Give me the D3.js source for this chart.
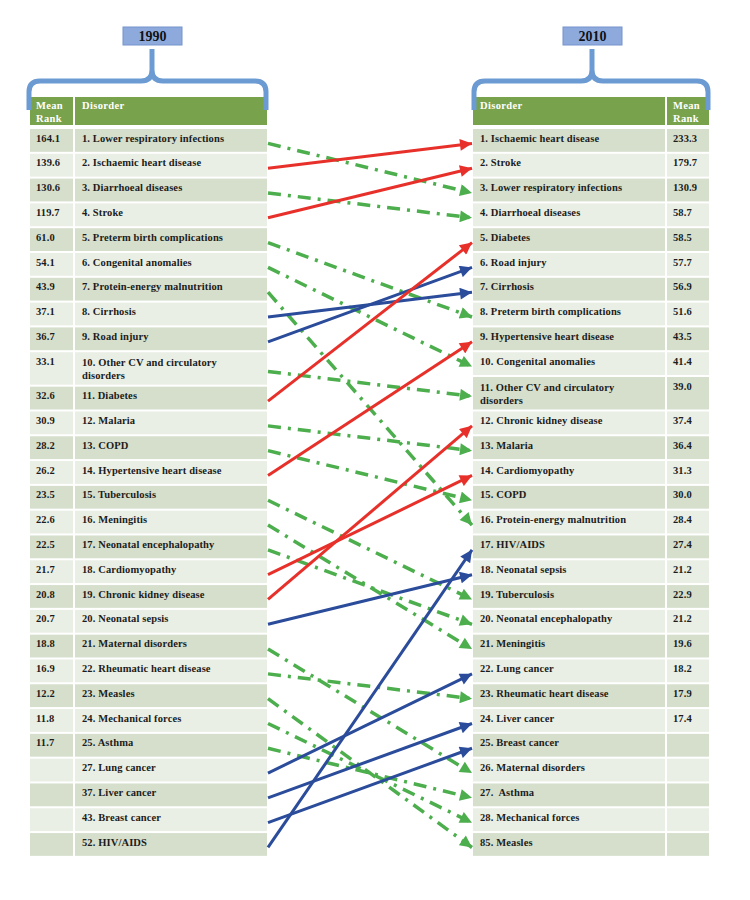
<!DOCTYPE html>
<html>
<head>
<meta charset="utf-8">
<script src="https://cdn.jsdelivr.net/npm/d3@7"></script>
<style>
  body { margin: 0; background: #fff; }
  svg { display: block; }
</style>
</head>
<body>
<svg width="750" height="900"></svg>
<script>
// ---- data ----
const labels1990 = [
  '1. Lower respiratory infections', '2. Ischaemic heart disease', '3. Diarrhoeal diseases',
  '4. Stroke', '5. Preterm birth complications', '6. Congenital anomalies',
  '7. Protein-energy malnutrition', '8. Cirrhosis', '9. Road injury',
  '10. Other CV and circulatory disorders', '11. Diabetes', '12. Malaria', '13. COPD',
  '14. Hypertensive heart disease', '15. Tuberculosis', '16. Meningitis',
  '17. Neonatal encephalopathy', '18. Cardiomyopathy', '19. Chronic kidney disease',
  '20. Neonatal sepsis', '21. Maternal disorders', '22. Rheumatic heart disease',
  '23. Measles', '24. Mechanical forces', '25. Asthma', '27. Lung cancer',
  '37. Liver cancer', '43. Breast cancer', '52. HIV/AIDS'
]
const rank1990 = [
  '164.1', '139.6', '130.6', '119.7', '61.0', '54.1', '43.9', '37.1', '36.7', '33.1',
  '32.6', '30.9', '28.2', '26.2', '23.5', '22.6', '22.5', '21.7', '20.8', '20.7',
  '18.8', '16.9', '12.2', '11.8', '11.7', '', '', '', ''
]
// how each 1990 disorder moved: down = fell, up = rose, new = rising newcomer
const change1990 = [
  'down', 'up', 'down', 'up', 'down', 'down', 'down', 'new', 'new', 'down',
  'up', 'down', 'down', 'up', 'down', 'down', 'down', 'up', 'up', 'new',
  'down', 'down', 'down', 'down', 'down', 'new', 'new', 'new', 'new'
]
const labels2010 = [
  '1. Ischaemic heart disease', '2. Stroke', '3. Lower respiratory infections',
  '4. Diarrhoeal diseases', '5. Diabetes', '6. Road injury', '7. Cirrhosis',
  '8. Preterm birth complications', '9. Hypertensive heart disease',
  '10. Congenital anomalies', '11. Other CV and circulatory disorders',
  '12. Chronic kidney disease', '13. Malaria', '14. Cardiomyopathy', '15. COPD',
  '16. Protein-energy malnutrition', '17. HIV/AIDS', '18. Neonatal sepsis',
  '19. Tuberculosis', '20. Neonatal encephalopathy', '21. Meningitis',
  '22. Lung cancer', '23. Rheumatic heart disease', '24. Liver cancer',
  '25. Breast cancer', '26. Maternal disorders', '27.  Asthma',
  '28. Mechanical forces', '85. Measles'
]
const rank2010 = [
  '233.3', '179.7', '130.9', '58.7', '58.5', '57.7', '56.9', '51.6', '43.5', '41.4',
  '39.0', '37.4', '36.4', '31.3', '30.0', '28.4', '27.4', '21.2', '22.9', '21.2',
  '19.6', '18.2', '17.9', '17.4', '', '', '', '', ''
]

const svg = d3.select('svg')
const font = 'Liberation Serif, Times New Roman, serif'
const green = '#79a24c'
const rowDark = '#d6dfcc'
const rowLight = '#eaefe5'
const braceBlue = '#6b9bd2'
const colors = { up: '#e8302a', new: '#2b4c9a', down: '#4cae4c' }

const tableTop = 129
const rowPitch = 24.8
const rowGap = 2
const spacing = '0.12px'

const leftT = { x: 30, rankW: 43, nameX: 75, nameW: 192 }
const rightT = { nameX: 473, nameW: 192, x: 667, rankW: 42 }

// --- helpers ---
const measurer = svg.append('text')
  .style('font-family', font).style('font-size', '10.5px').style('font-weight', 'bold')
  .style('letter-spacing', spacing)

function wrap (label, width) {
  const words = label.split(' ')
  const lines = []
  let cur = ''
  words.forEach(w => {
    const test = cur ? cur + ' ' + w : w
    measurer.text(test)
    if (measurer.node().getComputedTextLength() > width && cur) {
      lines.push(cur)
      cur = w
    } else cur = test
  })
  lines.push(cur)
  return lines
}

function layout (labels, width) {
  let acc = 0
  return labels.map(l => {
    const lines = wrap(l, width)
    const units = lines.length > 1 ? 1.39 : 1
    const r = { lines, start: acc, units }
    acc += units
    return r
  })
}

// wrap width picked so only the long "Other CV" label breaks, like the original
const rows1990 = layout(labels1990, 150)
const rows2010 = layout(labels2010, 150)
measurer.remove()

const totalUnits = d3.max([rows1990, rows2010], rs => rs[rs.length - 1].start + rs[rs.length - 1].units)
const y = d3.scaleLinear()
  .domain([0, totalUnits])
  .range([tableTop, tableTop + totalUnits * rowPitch])

const rowTop = r => y(r.start)
const rowH = r => y(r.start + r.units) - y(r.start) - rowGap
const rowMid = r => y(r.start + r.units / 2) - 1

// --- table drawing ---
function drawTable (rows, ranks, cols) {
  const g = svg.append('g')
  const rankX = cols.x
  const nameX = cols.nameX
  // header
  g.append('rect').attr('x', rankX).attr('y', 97).attr('width', cols.rankW).attr('height', 28).attr('fill', green)
  g.append('rect').attr('x', nameX).attr('y', 97).attr('width', cols.nameW).attr('height', 28).attr('fill', green)
  const hdr = g.append('text')
    .attr('fill', '#fff').style('font-family', font).style('font-size', '10.5px')
    .style('font-weight', 'bold').style('letter-spacing', '0.35px')
  hdr.append('tspan').attr('x', rankX + 6).attr('y', 109).text('Mean')
  hdr.append('tspan').attr('x', rankX + 6).attr('y', 122).text('Rank')
  g.append('text')
    .attr('x', nameX + 7).attr('y', 109)
    .attr('fill', '#fff').style('font-family', font).style('font-size', '10.5px')
    .style('font-weight', 'bold').style('letter-spacing', '0.35px')
    .text('Disorder')

  const row = g.selectAll('g.row').data(rows).join('g').attr('class', 'row')
  row.append('rect')
    .attr('x', rankX).attr('y', rowTop).attr('width', cols.rankW).attr('height', rowH)
    .attr('fill', (d, i) => i % 2 === 0 ? rowDark : rowLight)
  row.append('rect')
    .attr('x', nameX).attr('y', rowTop).attr('width', cols.nameW).attr('height', rowH)
    .attr('fill', (d, i) => i % 2 === 0 ? rowDark : rowLight)
  row.append('text')
    .attr('x', rankX + 6).attr('y', d => rowTop(d) + 12.5)
    .attr('fill', '#1c1c1c').style('font-family', font).style('font-size', '10.5px')
    .style('font-weight', 'bold').style('letter-spacing', spacing)
    .text((d, i) => ranks[i])
  row.append('text')
    .attr('fill', '#1c1c1c').style('font-family', font).style('font-size', '10.5px')
    .style('font-weight', 'bold').style('letter-spacing', spacing)
    .style('white-space', 'pre')
    .selectAll('tspan').data(d => d.lines.map((l, k) => ({ l, k, d }))).join('tspan')
    .attr('x', nameX + 7)
    .attr('y', t => rowTop(t.d) + (t.d.lines.length > 1 ? 13.5 : 12.5) + t.k * 13.5)
    .text(t => t.l)
}

drawTable(rows1990, rank1990, leftT)
drawTable(rows2010, rank2010, rightT)

// --- braces and year boxes ---
function brace (x0, x1, cx, label) {
  const barY = 81
  const r = 11
  const path = d3.path()
  path.moveTo(x0, 110)
  path.lineTo(x0, barY + r)
  path.quadraticCurveTo(x0, barY, x0 + r, barY)
  path.lineTo(cx - r, barY)
  path.quadraticCurveTo(cx, barY, cx, barY - r)
  path.lineTo(cx, 49)
  path.moveTo(cx, barY - r)
  path.quadraticCurveTo(cx, barY, cx + r, barY)
  path.lineTo(x1 - r, barY)
  path.quadraticCurveTo(x1, barY, x1, barY + r)
  path.lineTo(x1, 110)
  svg.append('path').attr('d', path.toString())
    .attr('fill', 'none').attr('stroke', braceBlue).attr('stroke-width', 5)
    .attr('stroke-linecap', 'butt')
  svg.append('rect').attr('x', cx - 29).attr('y', 27).attr('width', 59).attr('height', 18)
    .attr('fill', '#8eaadc').attr('stroke', '#7594cc').attr('stroke-width', 1)
  svg.append('text').attr('x', cx + 0.5).attr('y', 41).attr('text-anchor', 'middle')
    .attr('fill', '#111').style('font-family', font).style('font-size', '14px')
    .style('font-weight', 'bold').text(label)
}
brace(29, 266, 152, '1990')
brace(474, 708, 592, '2010')

// --- arrows ---
const defs = svg.append('defs')
Object.entries(colors).forEach(([k, c]) => {
  defs.append('marker')
    .attr('id', 'head-' + k)
    .attr('viewBox', '0 0 12 12')
    .attr('refX', 12).attr('refY', 6)
    .attr('markerWidth', 13).attr('markerHeight', 12)
    .attr('markerUnits', 'userSpaceOnUse')
    .attr('orient', 'auto')
    .append('path').attr('d', 'M0,0 L12,6 L0,12 Z').attr('fill', c)
})

const nameOf = l => l.replace(/^\d+\.\s*/, '').trim()
const idx2010 = new Map(labels2010.map((l, i) => [nameOf(l), i]))
const links = labels1990.map((l, i) => ({
  kind: change1990[i],
  from: rows1990[i],
  to: rows2010[idx2010.get(nameOf(l))]
}))

const startX = 268
const endX = 472
const order = { down: 0, new: 1, up: 2 }
svg.append('g').selectAll('line')
  .data(links.slice().sort((a, b) => order[a.kind] - order[b.kind]))
  .join('line')
  .attr('x1', startX)
  .attr('y1', d => rowMid(d.from) + 3)
  .attr('x2', endX)
  .attr('y2', d => rowMid(d.to) + 3)
  .attr('stroke', d => colors[d.kind])
  .attr('stroke-width', d => d.kind === 'down' ? 3.5 : 3)
  .attr('stroke-dasharray', d => d.kind === 'down' ? '13,7,3,7' : null)
  .attr('marker-end', d => `url(#head-${d.kind})`)
</script>
</body>
</html>
